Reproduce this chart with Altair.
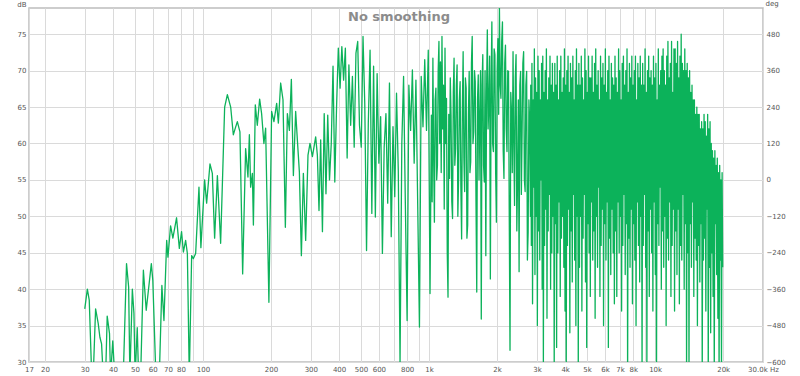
import altair as alt
import numpy as np
import pandas as pd

# ---- data ----
# 30 Hz .. 326 Hz : individual points (Hz, dB); values below 30 dB run off the plot
low_freq = [30.0, 30.8, 31.4, 32.2, 32.7, 33.5, 34.4, 35.0, 35.6, 36.2,
            37.1, 37.7, 38.6, 39.0, 39.9, 40.7, 44.4, 45.9, 46.9, 47.5,
            48.7, 49.5, 50.1, 51.2, 51.9, 53.0, 54.5, 56.1, 59.1, 60.0,
            61.9, 64.1, 65.8, 67.2, 69.1, 70.0, 71.9, 73.6, 76.4, 78.6,
            80.4, 81.9, 83.8, 85.3, 87.0, 89.1, 90.7, 92.8, 96.0, 97.9,
            101.7, 103.8, 107.4, 110.0, 112.6, 115.8, 119.7, 124.7, 128.2, 132.6,
            136.2, 139.0, 141.9, 145.7, 149.8, 154.4, 158.1, 160.4, 162.5, 165.4,
            167.1, 170.4, 173.9, 178.1, 181.7, 186.0, 189.3, 195.7, 201.2, 206.0,
            211.8, 215.5, 220.6, 225.9, 231.4, 236.2, 241.1, 246.0, 251.1, 257.0,
            261.5, 266.9, 272.4, 278.0, 284.6, 291.4, 297.4, 304.8, 315.1, 320.6,
            326.0]
low_db = [37.3, 40.0, 38.5, 28, 28, 37.3, 35.3, 33.4, 32.5, 28,
          28, 36.3, 33.9, 28, 32.9, 28, 28, 43.5, 40.3, 28,
          40.0, 36.7, 28, 34.7, 28, 28, 42.6, 37.1, 43.5, 41.2,
          28, 28, 40.5, 35.7, 46.7, 44.4, 48.7, 47.0, 49.8, 45.6,
          47.9, 45.1, 46.7, 44.9, 28, 44.6, 44.2, 44.9, 54.0, 45.7,
          55.0, 51.8, 57.2, 55.9, 47.0, 55.6, 46.3, 65.0, 66.7, 65.0,
          61.2, 62.1, 63.0, 61.6, 42.1, 59.3, 55.4, 61.2, 54.0, 55.9,
          48.8, 65.3, 62.5, 66.1, 64.1, 60.0, 62.1, 38.2, 64.4, 63.0,
          65.5, 62.8, 68.3, 66.0, 48.5, 64.1, 61.8, 68.8, 55.6, 64.4,
          60.5, 56.1, 44.6, 55.9, 46.7, 58.4, 60.0, 58.2, 60.9, 58.4,
          50.8]

# 332 Hz .. 1.01 kHz, evenly spaced (log) samples
mid_range = (331.6, 1010.0)
mid_db = [60.5, 47.9, 64.1, 53.1, 63.9, 55.0, 60.0, 70.6, 54.7, 65.0,
          73.1, 67.6, 73.3, 68.7, 73.1, 58.0, 70.8, 62.5, 69.2, 59.5,
          72.4, 74.0, 62.5, 59.5, 74.7, 65.5, 45.3, 62.8, 72.8, 50.4,
          70.6, 49.9, 69.6, 57.3, 63.7, 44.9, 59.5, 64.1, 51.8, 68.3,
          47.2, 62.3, 52.7, 66.9, 56.3, 29.9, 60.0, 69.2, 51.8, 35.7,
          68.0, 61.8, 70.1, 57.3, 68.7, 51.8, 34.8, 69.2, 62.3, 71.5,
          61.8, 72.8, 39.4]

# 1.02 kHz .. 2.8 kHz
upper_range = (1024.0, 2808.0)
upper_db = [63.9, 52, 71.7, 58, 49.2, 66, 67.6, 55, 57.0, 70,
            74.0, 60, 71.2, 56, 74.7, 62, 68.0, 51, 73.1, 60,
            66.2, 45, 38.9, 64, 55.2, 69, 63.9, 52, 49.7, 67,
            71.7, 57, 59.3, 68, 70.8, 50, 55.2, 66, 68.5, 54,
            46.9, 65, 72.6, 58, 53.4, 69, 67.6, 47, 48.8, 64,
            69.9, 56, 57.5, 71, 74.7, 60, 61.6, 70, 68.5, 52,
            39.6, 66, 69.4, 55, 63.9, 70, 35.9, 68, 72.2, 57,
            54.7, 70, 44.6, 67, 75.6, 62, 65.3, 72, 41.4, 68,
            76.7, 60, 58.9, 73, 72.2, 56, 49.2, 70, 74.4, 64,
            78.6, 68, 66.2, 74, 76.7, 59, 55.2, 71, 73.5, 62,
            58.9, 70, 69.9, 50, 31.6, 67, 64.4, 56, 72.6, 60,
            51.5, 69, 72.2, 48, 55.2, 66, 42.4, 68, 69.9, 53,
            61.6, 71, 72.6, 55, 53.4, 68, 69.9, 44, 47.9, 66,
            63.0, 50]

# 2.8 kHz .. 19.9 kHz, dense: alternating peaks and dips
hf_range = (2817.0, 19900.0)
hf_db = [68, 46, 71, 38, 66, 54, 73, 42, 69, 50, 67, 35, 72, 48, 70, 44, 66, 55, 71, 40,
         72, 30, 67, 46, 70, 51, 73, 36, 66, 48, 69, 53, 72, 40, 68, 45, 71, 50, 67, 29,
         71, 49, 68, 32, 72, 45, 66, 52, 70, 39, 72, 47, 67, 50, 69, 43, 73, 37, 68, 29,
         70, 46, 72, 51, 67, 34, 71, 48, 69, 41, 72, 53, 66, 44, 70, 35, 73, 50, 68, 29,
         71, 43, 68, 50, 72, 37, 69, 47, 66, 53, 73, 41, 70, 32, 67, 49, 72, 45, 69, 39,
         69, 52, 72, 44, 67, 48, 71, 36, 73, 50, 68, 43, 70, 54, 66, 39, 72, 46, 69, 51,
         71, 35, 68, 49, 73, 44, 67, 52, 70, 32, 72, 47, 66, 42, 71, 51, 69, 45, 68, 38,
         72, 48, 69, 39, 67, 52, 73, 45, 70, 50, 66, 37, 71, 46, 72, 53, 68, 42, 70, 49,
         73, 28, 67, 47, 71, 43, 69, 51, 72, 38, 68, 49, 70, 44, 72, 35, 66, 52, 71, 46,
         69, 41, 72, 50, 68, 28, 71, 46, 68, 53, 73, 43, 67, 29, 70, 48, 72, 39, 69, 51,
         70, 45, 68, 37, 72, 52, 69, 42, 71, 28, 66, 49, 73, 46, 68, 54, 70, 40, 72, 48,
         73, 43, 70, 50, 68, 35, 72, 47, 74, 44, 69, 52, 71, 39, 74, 46, 67, 51, 73, 37,
         73, 48, 71, 42, 74, 51, 69, 38, 72, 46, 75, 44, 71, 53, 70, 40, 73, 49, 70, 28,
         71, 45, 69, 28, 70, 49, 67, 43, 68, 52, 66, 39, 66, 47, 64, 44, 65, 35, 64, 46,
         64, 41, 62, 49, 63, 28, 62, 44, 64, 47, 63, 37, 61, 51, 64, 28, 62, 43, 63, 34,
         60, 45, 59, 39, 58, 28, 59, 49, 57, 42, 58, 36, 56, 28, 57, 44, 55, 28, 56, 43]

x_ticks = [17, 20, 30, 40, 50, 60, 70, 80, 90, 100, 200, 300, 400, 500, 600, 700,
           800, 900, 1000, 2000, 3000, 4000, 5000, 6000, 7000, 8000, 9000, 10000,
           20000, 30000]
db_ticks = [30, 35, 40, 45, 50, 55, 60, 65, 70, 75]
deg_ticks = [-600, -480, -360, -240, -120, 0, 120, 240, 360, 480]

# ---- build table ----
freqs = list(low_freq)
vals = list(low_db)
for (f0, f1), seg in [(mid_range, mid_db), (upper_range, upper_db), (hf_range, hf_db)]:
    freqs += list(np.geomspace(f0, f1, len(seg)))
    vals += list(seg)
df = pd.DataFrame({"f": freqs, "db": vals})

FONT = "DejaVu Sans"
LBL = "#555555"
GRID = "#dadada"

x_label_expr = ("indexof([90,700,900,9000], datum.value) >= 0 ? '' : "
                "(datum.value >= 30000 ? '30.0k Hz' : "
                "(datum.value >= 1000 ? (datum.value/1000) + 'k' : '' + datum.value))")

line = alt.Chart(df).mark_line(
    color="#0cb25a", strokeWidth=1.3, clip=True, strokeJoin="round"
).encode(
    x=alt.X("f:Q",
            scale=alt.Scale(type="log", domain=[17, 30000], nice=False),
            axis=alt.Axis(values=x_ticks, labelExpr=x_label_expr, title=None,
                          grid=True, gridColor=GRID, ticks=False, domain=False,
                          labelFont=FONT, labelFontSize=7, labelColor=LBL,
                          labelPadding=3, labelOverlap=False, labelFlush=False)),
    y=alt.Y("db:Q",
            scale=alt.Scale(domain=[30, 78.6], nice=False, zero=False),
            axis=alt.Axis(values=db_ticks, title="dB", titleAngle=0,
                          titleAlign="right", titleBaseline="alphabetic",
                          titleX=-3, titleY=-2, titleFont=FONT, titleFontSize=7,
                          titleFontWeight="normal", titleColor=LBL,
                          grid=True, gridColor=GRID, ticks=False, domain=False,
                          labelFont=FONT, labelFontSize=7, labelColor=LBL,
                          labelPadding=3)),
)

right = alt.Chart(pd.DataFrame({"deg": [0]})).mark_point(opacity=0).encode(
    y=alt.Y("deg:Q",
            scale=alt.Scale(domain=[-600, 566.4], nice=False, zero=False),
            axis=alt.Axis(orient="right", values=deg_ticks, title="deg",
                          titleAngle=0, titleAlign="left", titleBaseline="alphabetic",
                          titleX=2, titleY=-3, titleFont=FONT, titleFontSize=7,
                          titleFontWeight="normal", titleColor=LBL,
                          grid=False, ticks=False, domain=False,
                          labelFont=FONT, labelFontSize=7, labelColor=LBL,
                          labelPadding=3)),
)

title = alt.Chart(pd.DataFrame({"t": ["No smoothing"]})).mark_text(
    font=FONT, fontSize=13, fontWeight="bold", color="#8c8c8c",
    align="center", baseline="alphabetic"
).encode(text="t:N", x=alt.value(370), y=alt.value(12.7))

chart = alt.layer(line, right, title).resolve_scale(y="independent").properties(
    width=734, height=354, autosize="none",
    padding={"left": 29, "top": 8, "right": 37, "bottom": 14},
    background="white",
).configure_view(stroke="#bdbdbd", strokeWidth=1.5)

chart.save("out.html", embed_options={"renderer": "svg", "actions": False})
